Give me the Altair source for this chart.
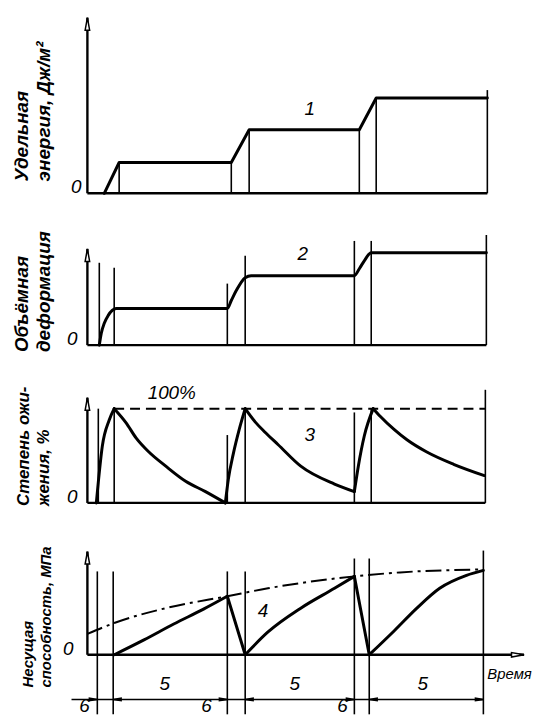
import altair as alt
import pandas as pd

# ---------------- layout / scales ----------------
W = 520
T_DOMAIN = [-20, 110]          # time, arbitrary units
FONT = "Liberation Sans"

P1_H, P1_DOM = 204, [-0.625, 5.75]
P2_H, P2_DOM = 158, [-0.25, 1.33]
P3_H, P3_DOM = 160, [-27.37, 141.05]
P4_H, P4_DOM = 187, [-60, 127]

# ---------------- data ----------------
# 1: specific energy
p1_t = [4.25, 8, 36.25, 40.75, 68.5, 72.75, 100.75]
p1_v = [0, 0.97, 0.97, 2.0, 2.0, 3.0, 3.0]
p1_vert_t = [8, 36.25, 40.75, 68.5, 72.75, 100.75]
p1_vert_top = [0.97, 0.97, 2.0, 2.0, 3.0, 3.25]
p1_axis_top = 5.53
p1_end = 100.75

# 2: volumetric deformation
p2_t = [3, 3.5, 4.25, 5.25, 6.25, 7.25, 35.25, 36.25, 37.5, 39.75, 41.25,
        67.25, 68.5, 69.75, 71.5, 100.5]
p2_v = [0, 0.12, 0.22, 0.30, 0.35, 0.37, 0.37, 0.45, 0.55, 0.68, 0.70,
        0.70, 0.77, 0.85, 0.93, 0.93]
p2_vert_t = [3, 6.75, 35.25, 39.75, 67.25, 71.5, 100.5]
p2_vert_top = [0.83, 0.78, 0.62, 0.90, 1.05, 1.05, 1.11]
p2_axis_top = 0.97
p2_end = 100.5

# 3: degree of liquefaction, %
p3_t = [2.25, 2.75, 3.75, 5.5, 6.75, 9.75, 12.25, 15.5, 19.75, 24.75, 29.75, 34.75,
        35.5, 36.75, 38.25, 39.75, 42.25, 44.75, 48, 53.75, 62.25, 67.25,
        68.25, 69.75, 72, 73.75, 77.25, 80.5, 85.5, 92.25, 100]
p3_v = [0, 22, 60, 88, 100, 85, 69, 54, 39, 23, 12, 0,
        25, 52, 78, 100, 86, 75, 62, 39, 20, 12,
        39, 71, 100, 92, 78, 67, 54, 41, 29]
p3_breaks = [4, 11, 15, 21, 24]          # peaks / minima: where a stroke changes
p3_vert_t = [2.75, 6.75, 35.25, 39.75, 67.25, 71.5, 100.25]
p3_vert_top = [100, 100, 72, 100, 96, 100, 120]
p3_full = 100
p3_full_from = 6.75
p3_axis_top = 111.6
p3_end = 100.25

# 4: bearing capacity
p4_t = [6.75, 14.25, 21.75, 29.25, 35.25, 39.75, 45.5, 53.75, 62.25, 67.25,
        71, 77.25, 83, 88.75, 95.5, 99.75]
p4_v = [0, 15, 31, 46, 59, 0, 23, 47, 67, 79, 0, 24, 47, 67, 80, 85]
p4_breaks = [4, 5, 9, 10]
p4_env_t = [0, 6.75, 19.75, 35.25, 45.5, 67.25, 78.75, 99.75]
p4_env_v = [21, 32, 47, 59, 67, 79, 83, 86]
p4_vert_t = [2.5, 6.5, 35.25, 39.75, 67.25, 71, 99.75]
p4_vert_top = [84, 84, 84, 84, 97, 97, 105]
p4_axis_top = 104
p4_xaxis_end = 110
p4_dim_level = -45
p4_dim_from = -4
p4_dim_right = [2.5, 35.25, 67.25, 99.75]
p4_dim_left = [6.5, 39.75, 71]

# ---------------- helpers ----------------
xs = alt.Scale(domain=T_DOMAIN, nice=False, zero=False)


def X(f):
    return alt.X(f"{f}:Q", scale=xs, axis=None)


def Y(f, dom):
    return alt.Y(f"{f}:Q", scale=alt.Scale(domain=dom, nice=False, zero=False), axis=None)


def split(ts, vs, breaks):
    """One row per point and stroke; a break point ends one stroke and starts the next."""
    rows, seg = [], 0
    for i, (t, v) in enumerate(zip(ts, vs)):
        rows.append({"t": t, "v": v, "seg": seg, "i": i})
        if i in breaks:
            seg += 1
            rows.append({"t": t, "v": v, "seg": seg, "i": i})
    return pd.DataFrame(rows)


def curve(ts, vs, dom, width=3.0, dash=None, smooth=False, breaks=()):
    df = split(ts, vs, list(breaks))
    kw = dict(color="black", strokeWidth=width, strokeJoin="round", strokeCap="round")
    if dash:
        kw["strokeDash"] = dash
        kw["strokeCap"] = "butt"
    if smooth:
        kw["interpolate"] = "monotone"
    return alt.Chart(df).mark_line(**kw).encode(
        x=X("t"), y=Y("v", dom), detail="seg:N", order="i:Q")


def verticals(ts, tops, bottom, dom, width=1.6):
    df = pd.DataFrame({"t": ts, "top": tops, "bot": [bottom] * len(ts)})
    return alt.Chart(df).mark_rule(color="black", strokeWidth=width).encode(
        x=X("t"), y=Y("bot", dom), y2="top:Q")


def hline(t0, t1, v, dom, width=2.4, dash=None):
    df = pd.DataFrame({"t0": [t0], "t1": [t1], "v": [v]})
    kw = dict(color="black", strokeWidth=width)
    if dash:
        kw["strokeDash"] = dash
    return alt.Chart(df).mark_rule(**kw).encode(x=X("t0"), x2="t1:Q", y=Y("v", dom))


ARROW_UP = "M0,0L0.36,2L-0.36,2Z"
ARROW_RIGHT = "M0,0L-2,0.36L-2,-0.36Z"
DIM_RIGHT = "M0,0L-2,0.32L-2,-0.32Z"
DIM_LEFT = "M0,0L2,0.32L2,-0.32Z"


def arrow(ts, vs, dom, shape, size, fill="white"):
    df = pd.DataFrame({"t": ts, "v": vs})
    return alt.Chart(df).mark_point(shape=shape, size=size, filled=True, fill=fill,
                                    stroke="black", strokeWidth=1.5, opacity=1).encode(
        x=X("t"), y=Y("v", dom))


def vaxis(top, dom):
    df = pd.DataFrame({"t": [0], "b": [0], "top": [top]})
    line = alt.Chart(df).mark_rule(color="black", strokeWidth=2.4).encode(
        x=X("t"), y=Y("b", dom), y2="top:Q")
    return line + arrow([0], [top], dom, ARROW_UP, 160)


def text(ts, vs, ss, dom, size=19, **kw):
    df = pd.DataFrame({"t": ts, "v": vs, "s": ss})
    return alt.Chart(df).mark_text(font=FONT, fontSize=size, fontStyle="italic",
                                   color="black", **kw).encode(
        x=X("t"), y=Y("v", dom), text="s:N")


def ytitle(lines, bottom, dom, size, cols=(-16.5, -11.25)):
    return text(list(cols)[:len(lines)], [bottom] * len(lines), lines, dom,
                size=size, angle=270, align="left", baseline="middle", fontWeight="bold")


def zero(t, dom):
    return text([t], [0], ["0"], dom, size=19, align="right", baseline="alphabetic")


# ---------------- panels ----------------
p1 = alt.layer(
    hline(0, p1_end, 0, P1_DOM),
    verticals(p1_vert_t, p1_vert_top, 0, P1_DOM),
    curve(p1_t, p1_v, P1_DOM),
    vaxis(p1_axis_top, P1_DOM),
    zero(-1.5, P1_DOM),
    text([56], [2.65], ["1"], P1_DOM),
    ytitle(["Удельная", "энергия, Дж/м²"], 0.375, P1_DOM, 19, cols=(-16.5, -11)),
).properties(width=W, height=P1_H)

p2 = alt.layer(
    hline(0, p2_end, 0, P2_DOM),
    verticals(p2_vert_t, p2_vert_top, 0, P2_DOM),
    curve(p2_t, p2_v, P2_DOM, smooth=True),
    vaxis(p2_axis_top, P2_DOM),
    zero(-2.5, P2_DOM),
    text([54.25], [0.92], ["2"], P2_DOM),
    ytitle(["Объёмная", "деформация"], -0.07, P2_DOM, 19, cols=(-16.5, -11)),
).properties(width=W, height=P2_H)

p3 = alt.layer(
    hline(0, p3_end, 0, P3_DOM),
    hline(p3_full_from, p3_end, p3_full, P3_DOM, width=2, dash=[10, 6]),
    verticals(p3_vert_t, p3_vert_top, 0, P3_DOM),
    curve(p3_t, p3_v, P3_DOM, smooth=True, breaks=p3_breaks),
    vaxis(p3_axis_top, P3_DOM),
    zero(-2.5, P3_DOM),
    text([21.25], [117], ["100%"], P3_DOM),
    text([56], [71.6], ["3"], P3_DOM),
    ytitle(["Степень ожи-", "жения, %"], -3.2, P3_DOM, 17, cols=(-16, -11)),
).properties(width=W, height=P3_H)

p4 = alt.layer(
    hline(0, p4_xaxis_end, 0, P4_DOM),
    arrow([p4_xaxis_end], [0], P4_DOM, ARROW_RIGHT, 160),
    verticals(p4_vert_t, p4_vert_top, P4_DOM[0], P4_DOM),
    curve(p4_env_t, p4_env_v, P4_DOM, width=2, dash=[16, 5, 3, 5], smooth=True),
    curve(p4_t, p4_v, P4_DOM, smooth=True, breaks=p4_breaks),
    vaxis(p4_axis_top, P4_DOM),
    hline(p4_dim_from, p4_dim_right[-1], p4_dim_level, P4_DOM, width=1.4),
    arrow(p4_dim_right, [p4_dim_level] * len(p4_dim_right), P4_DOM, DIM_RIGHT, 64, fill="black"),
    arrow(p4_dim_left, [p4_dim_level] * len(p4_dim_left), P4_DOM, DIM_LEFT, 64, fill="black"),
    zero(-3.5, P4_DOM),
    text([44.25], [44], ["4"], P4_DOM),
    text([19.5, 52.25, 84.5], [-29, -29, -29], ["5", "5", "5"], P4_DOM),
    text([-0.75, 30, 64.25], [-52, -52, -52], ["6", "6", "6"], P4_DOM),
    text([100.75], [-19], ["Время"], P4_DOM, size=15, align="left"),
    ytitle(["Несущая", "способность, МПа"], -33, P4_DOM, 15, cols=(-15, -10.5)),
).properties(width=W, height=P4_H)

chart = alt.vconcat(p1, p2, p3, p4, spacing=0).properties(
    padding=0, background="white"
).configure_view(stroke=None)

chart.save("out.html", embed_options={"renderer": "svg", "actions": False})
